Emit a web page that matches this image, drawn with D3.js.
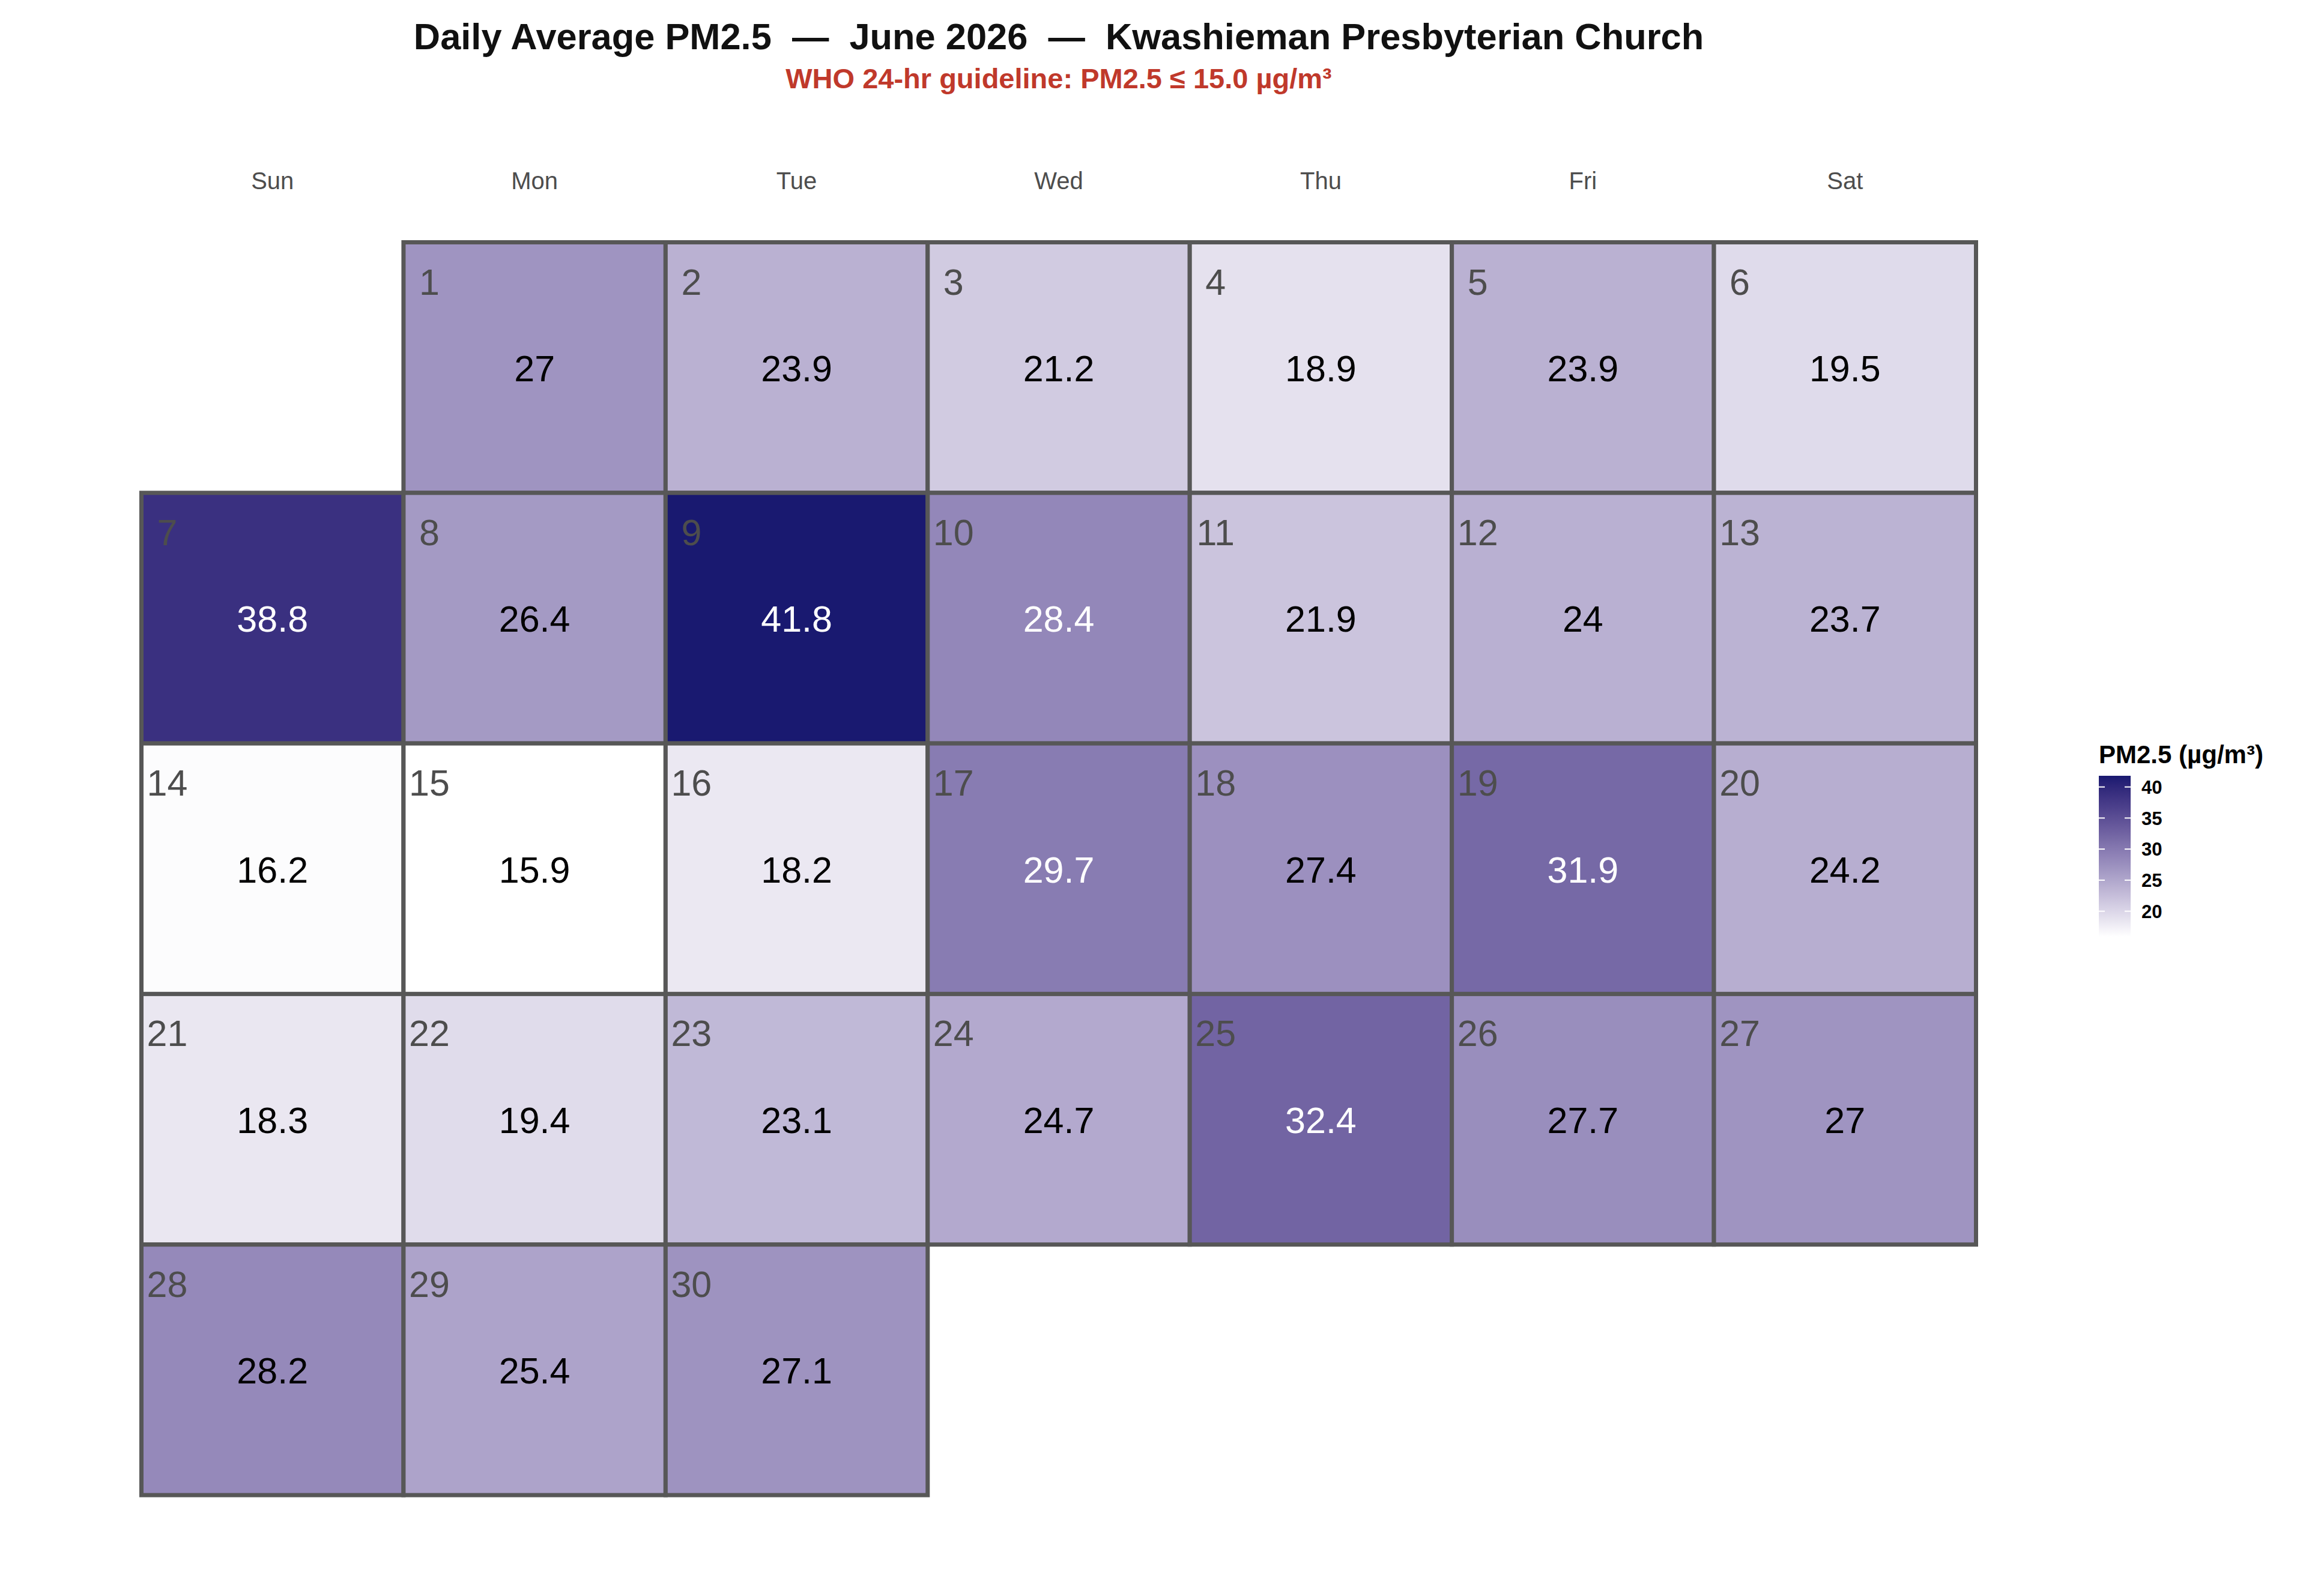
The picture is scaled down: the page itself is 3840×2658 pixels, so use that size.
<!DOCTYPE html>
<html>
<head>
<meta charset="utf-8">
<script src="https://cdn.jsdelivr.net/npm/d3@7"></script>
<style>
  body { margin: 0; background: #fff; }
  text { font-family: "Liberation Sans", Arial, sans-serif; white-space: pre; }
</style>
</head>
<body>
<div id="chart"></div>
<script>
// data
const weekdays = ['Sun', 'Mon', 'Tue', 'Wed', 'Thu', 'Fri', 'Sat'];
const days = [1, 2, 3, 4, 5, 6, 7, 8, 9, 10, 11, 12, 13, 14, 15,
              16, 17, 18, 19, 20, 21, 22, 23, 24, 25, 26, 27, 28, 29, 30];
const pm25 = [27, 23.9, 21.2, 18.9, 23.9, 19.5,
              38.8, 26.4, 41.8, 28.4, 21.9, 24, 23.7,
              16.2, 15.9, 18.2, 29.7, 27.4, 31.9, 24.2,
              18.3, 19.4, 23.1, 24.7, 32.4, 27.7, 27,
              28.2, 25.4, 27.1];
const legendTicks = [20, 25, 30, 35, 40];
const firstWeekday = 1; // 1 June 2026 is a Monday
const whiteTextFrom = 28.3;

const W = 3840, H = 2658;
const grid = {left: 235.5, right: 3290.5, top: 403.5, bottom: 2490};

const svg = d3.select('#chart').append('svg')
    .attr('width', W)
    .attr('height', H);

const data = days.map((d, i) => {
  const slot = firstWeekday + d - 1;
  return {day: d, value: pm25[i], col: weekdays[slot % 7], week: Math.floor(slot / 7)};
});

const nWeeks = d3.max(data, d => d.week) + 1;

const x = d3.scaleBand()
    .domain(weekdays)
    .range([grid.left, grid.right]);

const y = d3.scaleBand()
    .domain(d3.range(nWeeks))
    .range([grid.top, grid.bottom]);

const color = d3.scaleLinear()
    .domain(d3.extent(pm25))
    .range(['#ffffff', '#191970'])
    .interpolate(d3.interpolateLab);

// title
const cx = (grid.left + grid.right) / 2;
svg.append('text')
    .attr('x', cx).attr('y', 82)
    .attr('text-anchor', 'middle')
    .attr('font-size', 61.4).attr('font-weight', 'bold')
    .attr('fill', '#111')
    .text('Daily Average PM2.5  \u2014  June 2026  \u2014  Kwashieman Presbyterian Church');

svg.append('text')
    .attr('x', cx).attr('y', 147)
    .attr('text-anchor', 'middle')
    .attr('font-size', 47).attr('font-weight', 'bold')
    .attr('fill', '#c0392b')
    .text('WHO 24-hr guideline: PM2.5 \u2264 15.0 \u00b5g/m\u00b3');

// weekday header
svg.append('g')
  .selectAll('text')
  .data(weekdays)
  .join('text')
    .attr('x', d => x(d) + x.bandwidth() / 2)
    .attr('y', 315)
    .attr('text-anchor', 'middle')
    .attr('font-size', 40)
    .attr('fill', '#4d4d4d')
    .text(d => d);

// cells
const cell = svg.append('g')
  .selectAll('g')
  .data(data)
  .join('g')
    .attr('transform', d => 'translate(' + x(d.col) + ',' + y(d.week) + ')');

cell.append('rect')
    .attr('width', x.bandwidth())
    .attr('height', y.bandwidth())
    .attr('fill', d => color(d.value))
    .attr('stroke', '#575757')
    .attr('stroke-width', 7);

cell.append('text')
    .attr('x', 43)
    .attr('y', 87)
    .attr('text-anchor', 'middle')
    .attr('font-size', 61)
    .attr('fill', '#4d4d4d')
    .text(d => d.day);

cell.append('text')
    .attr('x', x.bandwidth() / 2)
    .attr('y', y.bandwidth() / 2 + 23)
    .attr('text-anchor', 'middle')
    .attr('font-size', 61)
    .attr('fill', d => d.value >= whiteTextFrom ? '#ffffff' : '#000000')
    .text(d => d.value);

// legend
const leg = {x: 3495, top: 1292, w: 53};
const ly = d3.scaleLinear()
    .domain(color.domain())
    .range([leg.top + 268, leg.top]);

const grad = svg.append('defs').append('linearGradient')
    .attr('id', 'pmgrad')
    .attr('x1', 0).attr('y1', 1).attr('x2', 0).attr('y2', 0);
grad.selectAll('stop')
  .data(d3.range(0, 1.0001, 0.05))
  .join('stop')
    .attr('offset', t => t)
    .attr('stop-color', t => color(color.domain()[0] + t * (color.domain()[1] - color.domain()[0])));

svg.append('text')
    .attr('x', leg.x).attr('y', 1271)
    .attr('font-size', 42).attr('font-weight', 'bold')
    .attr('fill', '#000')
    .text('PM2.5 (\u00b5g/m\u00b3)');

svg.append('rect')
    .attr('x', leg.x).attr('y', ly.range()[1])
    .attr('width', leg.w)
    .attr('height', ly.range()[0] - ly.range()[1])
    .attr('fill', 'url(#pmgrad)');

const tk = svg.append('g')
  .selectAll('g')
  .data(legendTicks)
  .join('g')
    .attr('transform', d => 'translate(0,' + ly(d) + ')');

tk.append('line')
    .attr('x1', leg.x).attr('x2', leg.x + 10)
    .attr('stroke', '#fff').attr('stroke-width', 2);
tk.append('line')
    .attr('x1', leg.x + leg.w - 10).attr('x2', leg.x + leg.w)
    .attr('stroke', '#fff').attr('stroke-width', 2);
tk.append('text')
    .attr('x', 3566)
    .attr('dy', '0.36em')
    .attr('font-size', 31).attr('font-weight', 'bold')
    .attr('fill', '#000')
    .text(d => d);
</script>
</body>
</html>
